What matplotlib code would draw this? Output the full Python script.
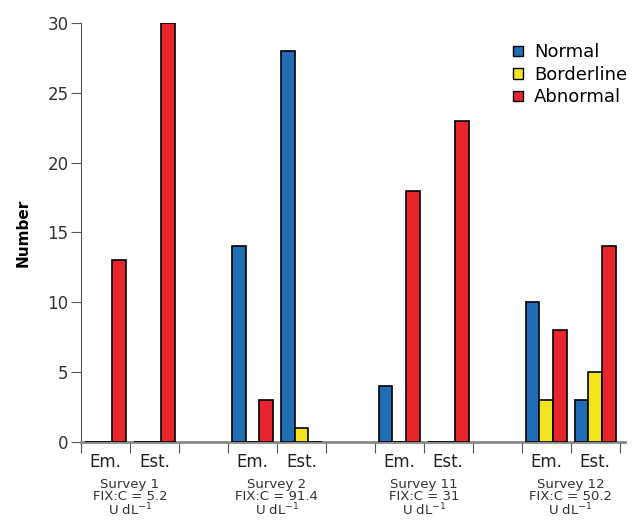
import numpy as np
from matplotlib import pyplot as plt
from matplotlib.patches import Patch

# Data
surveys = ["Survey 1\nFIX:C = 5.2\nU dL$^{-1}$",
           "Survey 2\nFIX:C = 91.4\nU dL$^{-1}$",
           "Survey 11\nFIX:C = 31\nU dL$^{-1}$",
           "Survey 12\nFIX:C = 50.2\nU dL$^{-1}$"]
sub_labels = ["Em.", "Est."]
series = ["Normal", "Borderline", "Abnormal"]

# one entry per survey: [Em., Est.]
normal = [[0, 0], [14, 28], [4, 0], [10, 3]]
borderline = [[0, 0], [0, 1], [0, 0], [3, 5]]
abnormal = [[13, 30], [3, 0], [18, 23], [8, 14]]

colors = ["#1f6db5", "#f2e41c", "#e8252d"]

fig = plt.figure(figsize=(6.35, 5.21), dpi=100)
ax = fig.add_axes([0.1276, 0.1516, 0.856, 0.8044])

# slot positions: two slots per survey, one empty slot between surveys
slots = []
for i in range(len(surveys)):
    slots.append([3 * i, 3 * i + 1])

offsets = [0.22, 0.5, 0.78]
width = 0.28
for k, (name, vals) in enumerate(zip(series, [normal, borderline, abnormal])):
    for i in range(len(surveys)):
        for j in range(2):
            ax.bar(slots[i][j] + offsets[k], vals[i][j], width=width,
                   color=colors[k], edgecolor="black", linewidth=1.2, zorder=3)

ax.set_xlim(0, 11.1)
ax.set_ylim(0, 30)
ax.set_yticks(range(0, 31, 5))
ax.tick_params(axis="y", labelsize=12, labelcolor="#333333", length=7, color="#555555", pad=2)

# slot boundaries as ticks, labels at slot centres
bounds = sorted(set([s for pair in slots for s in pair] + [s + 1 for pair in slots for s in pair]))
ax.set_xticks(bounds)
ax.set_xticklabels([])
ax.tick_params(axis="x", length=8, color="#555555")
centers = [s + 0.5 for pair in slots for s in pair]
ax.set_xticks(centers, minor=True)
ax.set_xticklabels(sub_labels * len(surveys), minor=True, fontsize=12, color="#222222")
ax.tick_params(axis="x", which="minor", length=0, pad=8)

for i, txt in enumerate(surveys):
    ax.text(slots[i][0] + 1, -2.55, txt, ha="center", va="top", fontsize=9.5,
            color="#333333", linespacing=0.92)

ax.spines["top"].set_visible(False)
ax.spines["right"].set_visible(False)
ax.spines["left"].set_color("#555555")
ax.spines["bottom"].set_color("#888888")
ax.spines["bottom"].set_linewidth(2)

ax.set_ylabel("Number", fontsize=11, fontweight="bold", labelpad=12)

handles = [Patch(facecolor=c, edgecolor="black", label=s) for c, s in zip(colors, series)]
ax.legend(handles=handles, loc="upper right", bbox_to_anchor=(1.035, 0.99), frameon=False,
          fontsize=13, handlelength=0.55, handleheight=0.55, handletextpad=0.6,
          labelspacing=0.25)

plt.savefig("out.png", dpi=100)
